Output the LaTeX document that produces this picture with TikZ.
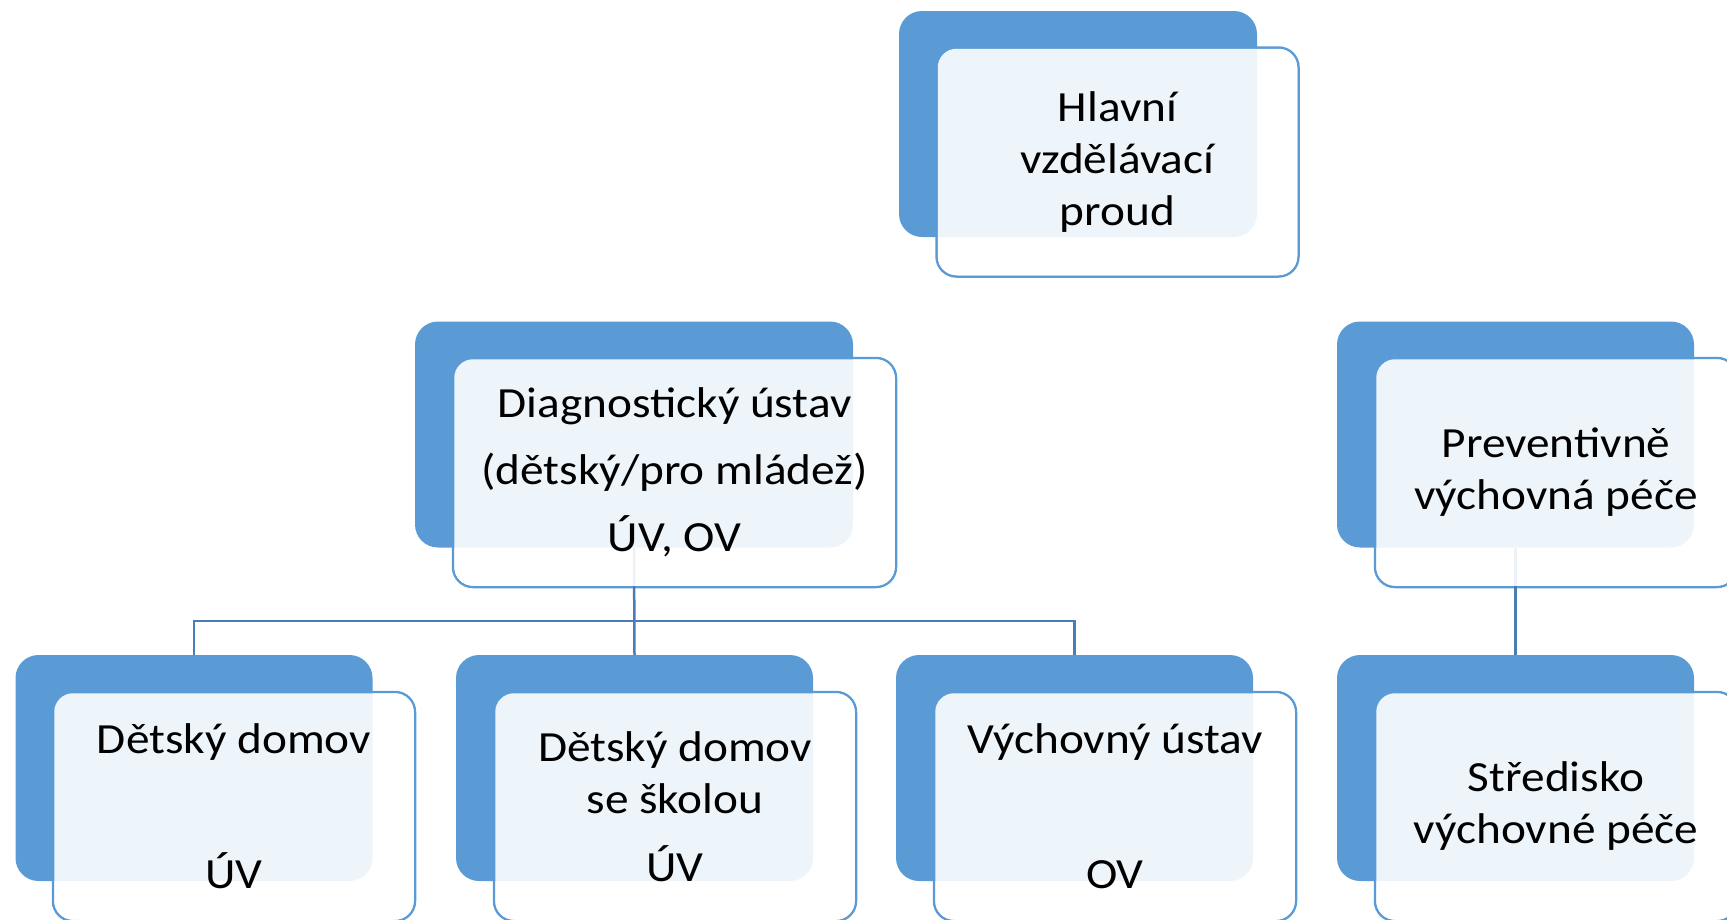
\documentclass[tikz,border=0pt]{standalone}
\usepackage{fontspec}
\setmainfont{Carlito}[FakeStretch=1.1]
\definecolor{accent}{HTML}{5B9BD5}
\definecolor{connblue}{HTML}{4A7DB5}
\tikzset{
  bluebox/.style={fill=accent, draw=none, rounded corners=23pt, minimum width=357pt, minimum height=226pt, inner sep=0pt},
  frontout/.style={draw=accent, line width=2.5pt, fill=white, rounded corners=20pt, minimum width=362pt, minimum height=229pt, inner sep=0pt},
  fronttext/.style={fill=white, fill opacity=0.9, text opacity=1, draw=none, rounded corners=18.75pt, minimum width=359.5pt, minimum height=226.5pt, inner sep=0pt, align=center, font=\fontsize{43}{52}\selectfont},
  conn/.style={draw=connblue, line width=2.5pt}
}
\begin{document}
\begin{tikzpicture}[x=1pt,y=-1pt]
\useasboundingbox (0,0) rectangle (1727,919);
\clip (0,0) rectangle (1727,919);
% front outlines
\node[frontout] (f1o) at (1117.5,162) {};
\node[frontout, minimum width=443pt] (f2o) at (674.5,472.5) {};
\node[frontout] (f3o) at (1556,472.5) {};
\node[frontout] (f4o) at (234,806.5) {};
\node[frontout] (f5o) at (675,806.5) {};
\node[frontout] (f6o) at (1115,806.5) {};
\node[frontout] (f7o) at (1556,806.5) {};
% blue boxes
\node[bluebox, minimum width=358pt] (b1) at (1078,124) {};
\node[bluebox, minimum width=438pt] (b2) at (634,434.5) {};
\node[bluebox] (b3) at (1515.5,434.5) {};
\node[bluebox] (b4) at (194,768) {};
\node[bluebox] (b5) at (634.5,768) {};
\node[bluebox] (b6) at (1074.5,768) {};
\node[bluebox] (b7) at (1515.5,768) {};
% connectors
\coordinate (bus) at (634,621);
\draw[conn] (b2.south) -- (b5.north);
\draw[conn] (b4.north) |- (bus) -| (b6.north);
\draw[conn] (b3.south) -- (b7.north);
% front fills with text
\node[fronttext] (f1) at (f1o) {Hlavní\\vzdělávací\\proud};
\node[fronttext, minimum width=440.5pt] (f2) at (f2o) {Diagnostický ústav\\[15pt](dětský/pro mládež)\\[15pt]ÚV, OV};
\node[fronttext] (f3) at (f3o) {Preventivně\\výchovná péče};
\node[fronttext] (f4) at (f4o) {Dětský domov\\[83pt]ÚV};
\node[fronttext] (f5) at (f5o) {Dětský domov\\se školou\\[16pt]ÚV};
\node[fronttext] (f6) at (f6o) {Výchovný ústav\\[83pt]OV};
\node[fronttext] (f7) at (f7o) {Středisko\\výchovné péče};
\end{tikzpicture}
\end{document}
